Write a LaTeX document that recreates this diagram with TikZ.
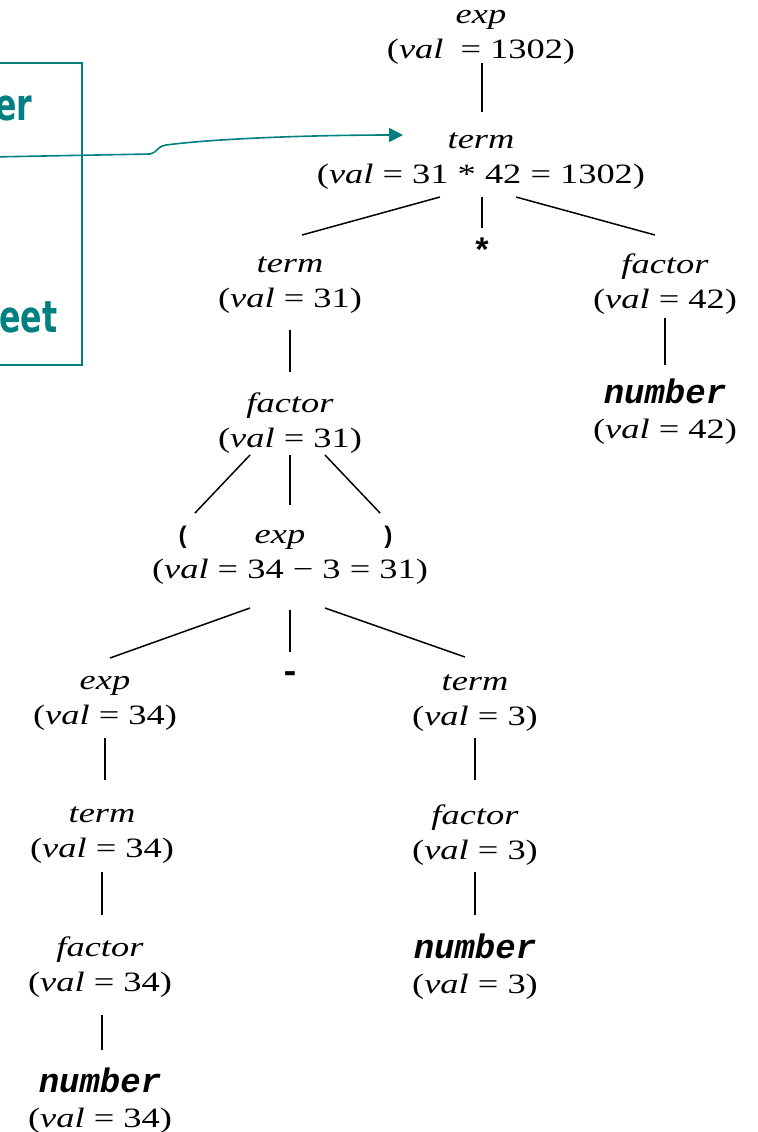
\documentclass[tikz,border=0pt]{standalone}
\usepackage{fontspec}
\setmainfont{Liberation Serif}[FakeStretch=1.3]
\newfontfamily\codefont{Liberation Mono}
\newfontfamily\notefont{DejaVu Sans}[FakeStretch=0.72]
\usetikzlibrary{arrows.meta}
\definecolor{noteteal}{RGB}{0,128,128}
\newcommand{\numword}{{\codefont\bfseries\itshape\fontsize{17}{17}\selectfont number}}

\begin{document}
\begin{tikzpicture}[x=0.5pt,y=-0.5pt,
  attr/.style={align=center,inner sep=0pt,font=\fontsize{14}{17.5}\selectfont},
  tok/.style={inner sep=0pt,font=\codefont\bfseries\fontsize{17}{17}\selectfont},
  paren/.style={inner sep=0pt,font=\codefont\bfseries\fontsize{12}{12}\selectfont},
  branch/.style={line width=0.75pt},
  notebox/.style={draw=noteteal,line width=1pt},
  notearrow/.style={draw=noteteal,line width=0.8pt,-{Triangle[length=7pt,width=7pt]}},
  notetext/.style={inner sep=0pt,anchor=base east,text=noteteal,font=\notefont\bfseries\fontsize{22}{26}\selectfont}]
    \useasboundingbox (0,0) rectangle (758,1132);
    \clip (0,0) rectangle (758,1132);
    % Margin note on the left, cut by the page edge
    \draw[notebox] (-20,63) rectangle (82,365);
    \node[notetext] (noteA) at (33,120) {er};
    \node[notetext] (noteB) at (58,332) {eet};
    
    % Parse tree nodes
    \node[attr] (e0) at (481,37) {\textit{exp}\\(\textit{val}\hspace{4pt} = 1302)};
    \node[attr] (t0) at (481,161) {\textit{term}\\(\textit{val} = 31 * 42 = 1302)};
    \node[tok] (star) at (482,250) {*};
    \node[attr] (t1) at (290,285) {\textit{term}\\(\textit{val} = 31)};
    \node[attr] (f42) at (665,284) {\textit{factor}\\(\textit{val} = 42)};
    \node[attr] (n42) at (665,412) {\numword\\(\textit{val} = 42)};
    \node[attr] (f31) at (290,423) {\textit{factor}\\(\textit{val} = 31)};
    \node[paren] (lp) at (183,537) {(};
    \node[paren] (rp) at (388,537) {)};
    \node[attr] (e1) at (290,557) {\textit{exp}\hspace*{10pt}\\(\textit{val} = 34 − 3 = 31)};
    \node[tok] (minus) at (290,677) {-};
    \node[attr] (e2) at (105,703) {\textit{exp}\\(\textit{val} = 34)};
    \node[attr] (t3) at (475,703) {\textit{term}\\(\textit{val} = 3)};
    \node[attr] (t4) at (102,835) {\textit{term}\\(\textit{val} = 34)};
    \node[attr] (f3) at (475,835) {\textit{factor}\\(\textit{val} = 3)};
    \node[attr] (f34) at (100,967) {\textit{factor}\\(\textit{val} = 34)};
    \node[attr] (n3) at (475,967) {\numword\\(\textit{val} = 3)};
    \node[attr] (n34) at (100,1101) {\numword\\(\textit{val} = 34)};
    
    % Branches
    \draw[branch] ([shift={(1,26)}]e0.center) -- ([shift={(1,-49)}]t0.center);
    \draw[branch] ([shift={(-41,36)}]t0.center) -- ([shift={(12,-50)}]t1.center);
    \draw[branch] ([shift={(1,36)}]t0.center) -- ([shift={(0,-22)}]star.center);
    \draw[branch] ([shift={(35,36)}]t0.center) -- ([shift={(-10,-49)}]f42.center);
    \draw[branch] ([shift={(0,45)}]t1.center) -- ([shift={(0,-51)}]f31.center);
    \draw[branch] ([shift={(0,34)}]f42.center) -- ([shift={(0,-47)}]n42.center);
    \draw[branch] ([shift={(-40,32)}]f31.center) -- ([shift={(12,-24)}]lp.center);
    \draw[branch] ([shift={(0,32)}]f31.center) -- ([shift={(0,-52)}]e1.center);
    \draw[branch] ([shift={(35,32)}]f31.center) -- ([shift={(-8,-24)}]rp.center);
    \draw[branch] ([shift={(-40,51)}]e1.center) -- ([shift={(5,-45)}]e2.center);
    \draw[branch] ([shift={(0,53)}]e1.center) -- ([shift={(0,-25)}]minus.center);
    \draw[branch] ([shift={(35,51)}]e1.center) -- ([shift={(-10,-46)}]t3.center);
    \draw[branch] ([shift={(0,35)}]e2.center) -- ([shift={(3,-55)}]t4.center);
    \draw[branch] ([shift={(0,35)}]t3.center) -- ([shift={(0,-55)}]f3.center);
    \draw[branch] ([shift={(0,37)}]t4.center) -- ([shift={(2,-52)}]f34.center);
    \draw[branch] ([shift={(0,37)}]f3.center) -- ([shift={(0,-52)}]n3.center);
    \draw[branch] ([shift={(2,48)}]f34.center) -- ([shift={(2,-51)}]n34.center);
    
    % Pointer from the note to the term node
    \coordinate (tail) at (-10,157);
    \coordinate (tip) at ([shift={(-78,-26)}]t0.center);
    \draw[notearrow] (tail) -- (150,154) .. controls (157,153) and (156,147) .. (166,145) .. controls (220,138) and (320,135) .. (tip);
\end{tikzpicture}
\end{document}
